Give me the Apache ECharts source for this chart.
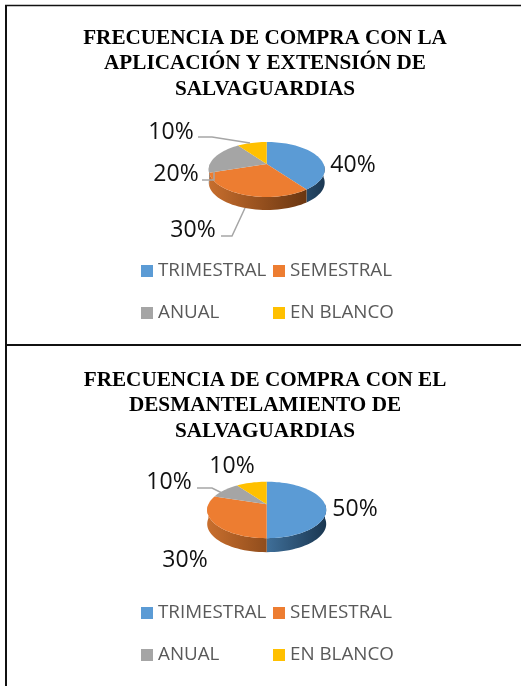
<!DOCTYPE html>
<html>
<head>
<meta charset="utf-8">
<style>
  html, body { margin: 0; padding: 0; background: #fff; }
  #chart { width: 521px; height: 686px; }
</style>
<script src="https://cdn.jsdelivr.net/npm/echarts@6/dist/echarts.min.js"></script>
</head>
<body>
<div id="chart"></div>
<script>
const categories = ['TRIMESTRAL', 'SEMESTRAL', 'ANUAL', 'EN BLANCO']
const valuesAplicacion = [40, 30, 20, 10]
const valuesDesmantelamiento = [50, 30, 10, 10]
const titleAplicacion = 'FRECUENCIA DE COMPRA CON LA\nAPLICACIÓN Y EXTENSIÓN DE\nSALVAGUARDIAS'
const titleDesmantelamiento = 'FRECUENCIA DE COMPRA CON EL\nDESMANTELAMIENTO DE\nSALVAGUARDIAS'

const colors = ['#5b9bd5', '#ed7d31', '#a5a5a5', '#ffc000']
const wallNear = ['#3f6f99', '#c96f2e', '#8a8a8a', '#c99700']
const wallFar = ['#1a3650', '#6a3611', '#5a5a5a', '#8a6a00']
// horizontal span of each wall gradient, relative to the pie centre
const wallSpan = [[0, 60], [-60, 40], [-60, 60], [-60, 60]]
const labelFont = '"Open Sans", sans-serif'

// layout of the two pies: tilted circle is a projective map, apex sits above the ellipse middle
const pies = [
  {
    title: titleAplicacion, titleTop: 25.5, values: valuesAplicacion,
    cx: 266.7, cy: 164, a: 26.4, b: 56.8, k: 0.2, depth: 13,
    labels: [[353, 165], [193, 230], [176, 174], [171, 132]],
    leaders: [null, [[221, 236], [232, 236], [245, 208]], [[202, 180], [214, 180], [214, 172]], [[198, 137], [212, 137], [250, 143]]],
    legendTop: [261.5, 303.5]
  },
  {
    title: titleDesmantelamiento, titleTop: 367.5, values: valuesDesmantelamiento,
    cx: 266.7, cy: 504.3, a: 27.1, b: 58.3, k: 0.2, depth: 14,
    labels: [[355, 509], [185, 560], [169, 482], [232, 466]],
    leaders: [null, null, [[197, 488], [212, 488], [224, 494]], null],
    legendTop: [603.5, 645.5]
  }
]

const project = (p, deg, dy = 0) => {
  const t = deg * Math.PI / 180
  const u = Math.sin(t)
  const v = -Math.cos(t)
  const d = 1 - p.k * v
  return [p.cx + p.b * u / d, p.cy + p.a * v / d + dy]
}

const arcPoints = (p, from, to, dy) => {
  const pts = []
  const steps = Math.max(2, Math.ceil((to - from) / 3))
  for (let i = 0; i <= steps; i++) pts.push(project(p, from + (to - from) * i / steps, dy))
  return pts
}

const sliceSeries = (p, idx) => {
  const total = p.values.reduce((a, b) => a + b, 0)
  const before = p.values.slice(0, idx).reduce((a, b) => a + b, 0)
  return {
    type: 'custom',
    name: categories[idx],
    coordinateSystem: 'none',
    itemStyle: { color: colors[idx] },
    silent: true,
    animation: false,
    data: [p.values[idx]],
    renderItem: (params, api) => {
      const value = api.value(0)
      const from = before / total * 360
      const to = from + value / total * 360
      const children = []

      // outer wall, only the part facing the viewer
      const wFrom = Math.max(from, 90)
      const wTo = Math.min(to, 270)
      if (wTo > wFrom) {
        const top = arcPoints(p, wFrom, wTo, 0)
        const bottom = arcPoints(p, wFrom, wTo, p.depth).reverse()
        const span = wallSpan[idx]
        children.push({
          type: 'polygon',
          z2: 1,
          shape: { points: top.concat(bottom) },
          style: {
            fill: new echarts.graphic.LinearGradient(p.cx + span[0], 0, p.cx + span[1], 0, [
              { offset: 0, color: wallNear[idx] },
              { offset: 1, color: wallFar[idx] }
            ], true)
          }
        })
      }

      // top face
      children.push({
        type: 'polygon',
        z2: 2,
        shape: { points: [[p.cx, p.cy]].concat(arcPoints(p, from, to, 0)) },
        style: { fill: colors[idx] }
      })

      // leader line
      if (p.leaders[idx]) {
        children.push({
          type: 'polyline',
          z2: 3,
          shape: { points: p.leaders[idx] },
          style: { stroke: '#a6a6a6', lineWidth: 1.5, fill: 'none' }
        })
      }

      // percent label
      children.push({
        type: 'text',
        z2: 4,
        x: p.labels[idx][0],
        y: p.labels[idx][1],
        style: {
          text: value + '%',
          fill: '#111',
          font: '23px ' + labelFont,
          align: 'center',
          verticalAlign: 'middle'
        }
      })
      return { type: 'group', children }
    }
  }
}

const legendAt = (name, left, top) => ({
  data: [name],
  left,
  top,
  icon: 'rect',
  itemWidth: 12,
  itemHeight: 12,
  itemGap: 5,
  padding: 0,
  selectedMode: false,
  textStyle: { color: '#595959', fontSize: 18.8, fontFamily: labelFont, padding: [0, 0, 0, 0] }
})

const frame = [
  [[6, 5], [6, 686], 2],
  [[5, 5.5], [521, 5.5], 1.5],
  [[6, 345], [521, 345], 2]
].map(l => ({
  type: 'polyline',
  shape: { points: [l[0], l[1]] },
  style: { stroke: '#111', lineWidth: l[2], fill: 'none' }
}))

const chart = echarts.init(document.getElementById('chart'))
chart.setOption({
  backgroundColor: '#fff',
  animation: false,
  title: pies.map(p => ({
    text: p.title,
    left: 265,
    top: p.titleTop,
    textAlign: 'center',
    padding: 0,
    textStyle: {
      fontFamily: '"Liberation Serif", serif',
      fontWeight: 'bold',
      fontSize: 21.2,
      lineHeight: 25.5,
      color: '#000'
    }
  })),
  legend: pies.flatMap(p => [
    legendAt(categories[0], 141, p.legendTop[0]),
    legendAt(categories[1], 273, p.legendTop[0]),
    legendAt(categories[2], 141, p.legendTop[1]),
    legendAt(categories[3], 273, p.legendTop[1])
  ]),
  graphic: frame,
  series: pies.flatMap(p => p.values.map((v, i) => sliceSeries(p, i)))
})
</script>
</body>
</html>
